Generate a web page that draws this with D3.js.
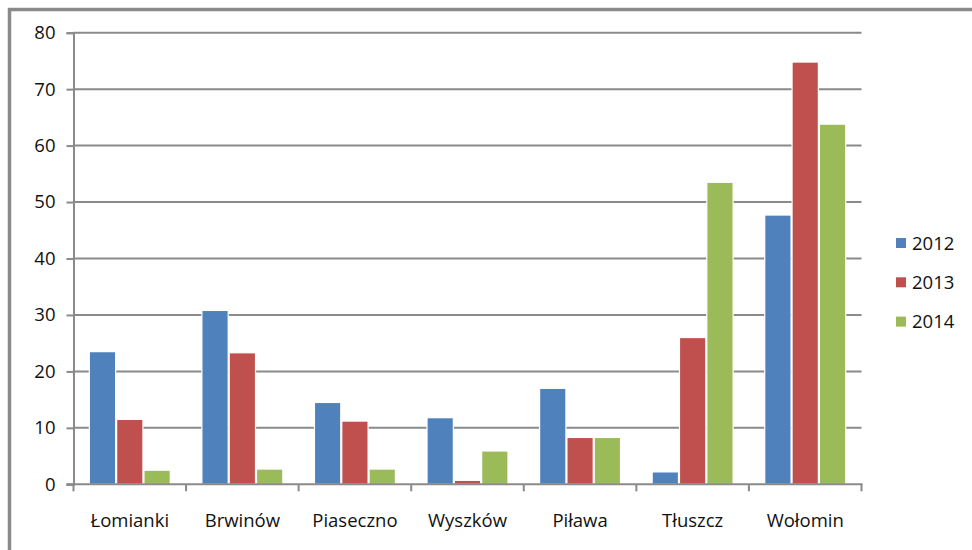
<!DOCTYPE html>
<html>
<head>
<meta charset="utf-8">
<script src="https://cdn.jsdelivr.net/npm/d3@7"></script>
<style>
  html, body { margin: 0; padding: 0; background: #fff; }
  svg { display: block; }
  text { font-family: "Open Sans", "Noto Sans", sans-serif; fill: #111; }
</style>
</head>
<body>
<svg id="chart" width="972" height="550"></svg>
<script>
// Towns and yearly values
const categories = ["Łomianki", "Brwinów", "Piaseczno", "Wyszków", "Piława", "Tłuszcz", "Wołomin"];
const years = ["2012", "2013", "2014"];
const values2012 = [23.5, 30.8, 14.5, 11.8, 17.0, 2.2, 47.7];
const values2013 = [11.5, 23.3, 11.2, 0.7, 8.3, 26.0, 74.8];
const values2014 = [2.5, 2.7, 2.7, 5.9, 8.3, 53.5, 63.8];
const yTicks = [0, 10, 20, 30, 40, 50, 60, 70, 80];
const colors = ["#4F81BD", "#C0504D", "#9BBB59"];

const series = [values2012, values2013, values2014];

const svg = d3.select("#chart");
const W = 972, H = 550;
const fontSize = 18.5;

// Outer chart frame (runs off the right and bottom edge)
svg.append("rect")
  .attr("x", 9.5).attr("y", 9.5)
  .attr("width", W + 20).attr("height", H + 20)
  .attr("fill", "none")
  .attr("stroke", "#8a8a8a")
  .attr("stroke-width", 3.5);

const plot = { left: 73.5, right: 861.5, top: 32.7, bottom: 484.3 };

const x = d3.scaleBand()
  .domain(categories)
  .range([plot.left, plot.right])
  .paddingInner(0)
  .paddingOuter(0);

const groupWidth = x.bandwidth() * 0.728;
const xInner = d3.scaleBand()
  .domain(years)
  .range([0, groupWidth]);

const y = d3.scaleLinear()
  .domain([0, 80])
  .range([plot.bottom, plot.top]);

const gridColor = "#8a8a8a";

// Horizontal gridlines
svg.append("g")
  .selectAll("line")
  .data(yTicks.filter(d => d > 0))
  .join("line")
  .attr("x1", plot.left).attr("x2", plot.right)
  .attr("y1", d => y(d)).attr("y2", d => y(d))
  .attr("stroke", gridColor)
  .attr("stroke-width", 2);

// Bars
const groups = svg.append("g")
  .selectAll("g")
  .data(categories)
  .join("g")
  .attr("transform", c => `translate(${x(c) + (x.bandwidth() - groupWidth) / 2},0)`);

groups.selectAll("rect")
  .data((c, i) => years.map((yr, s) => ({ yr, s, v: series[s][i] })))
  .join("rect")
  .attr("x", d => xInner(d.yr) + 0.5)
  .attr("width", xInner.bandwidth() - 1)
  .attr("y", d => y(d.v))
  .attr("height", d => y(0) - y(d.v))
  .attr("fill", d => colors[d.s])
  .attr("stroke", "#ffffff")
  .attr("stroke-width", 1.2);

// Y axis
const yAxis = d3.axisLeft(y)
  .tickValues(yTicks)
  .tickSize(7)
  .tickPadding(11)
  .tickFormat(d3.format("d"));

const yg = svg.append("g")
  .attr("transform", `translate(${plot.left},0)`)
  .call(yAxis);
yg.select(".domain").attr("stroke", gridColor).attr("stroke-width", 2);
yg.selectAll(".tick line").attr("stroke", gridColor).attr("stroke-width", 2);
yg.selectAll(".tick text")
  .attr("font-size", fontSize)
  .style("font-family", "'Open Sans', sans-serif")
  .attr("fill", "#111");

// X axis: tick marks on category boundaries
const xAxisG = svg.append("g");
xAxisG.append("line")
  .attr("x1", plot.left - 7).attr("x2", plot.right + 1)
  .attr("y1", plot.bottom).attr("y2", plot.bottom)
  .attr("stroke", gridColor).attr("stroke-width", 2);

const boundaries = categories.map(c => x(c)).concat([x(categories[categories.length - 1]) + x.bandwidth()]);
xAxisG.selectAll("line.tick")
  .data(boundaries)
  .join("line")
  .attr("class", "tick")
  .attr("x1", d => d).attr("x2", d => d)
  .attr("y1", plot.bottom).attr("y2", plot.bottom + 7)
  .attr("stroke", gridColor).attr("stroke-width", 2);

xAxisG.selectAll("text")
  .data(categories)
  .join("text")
  .attr("x", c => x(c) + x.bandwidth() / 2)
  .attr("y", 526.5)
  .attr("text-anchor", "middle")
  .attr("font-size", fontSize)
  .text(c => c);

// Legend
const legend = svg.append("g");
const legendItems = legend.selectAll("g")
  .data(years)
  .join("g")
  .attr("transform", (d, i) => `translate(896,${243 + i * 39.3})`);
legendItems.append("rect")
  .attr("x", 0).attr("y", -5)
  .attr("width", 10).attr("height", 10)
  .attr("fill", (d, i) => colors[i]);
legendItems.append("text")
  .attr("x", 16).attr("y", 6.5)
  .attr("font-size", fontSize)
  .text(d => d);
</script>
</body>
</html>
